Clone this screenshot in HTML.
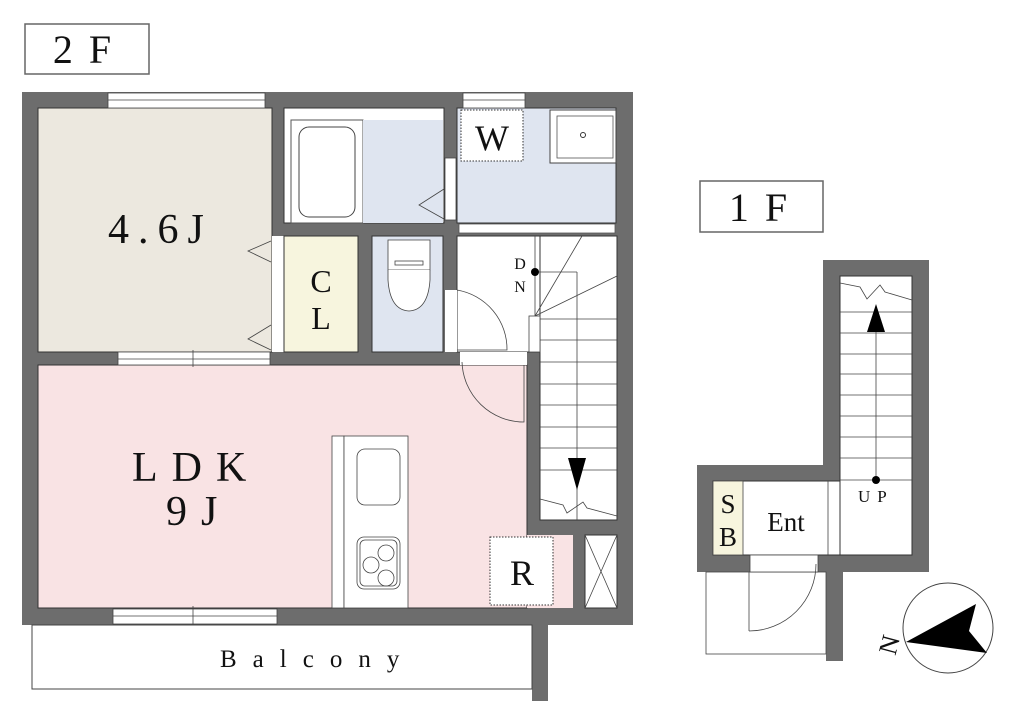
<!DOCTYPE html>
<html><head><meta charset="utf-8"><style>
html,body{margin:0;padding:0;background:#fff}
svg{display:block}
text{font-family:"Liberation Serif","Noto Serif CJK SC",serif;fill:#111}
</style></head><body>
<svg width="1024" height="720" viewBox="0 0 1024 720" xmlns="http://www.w3.org/2000/svg">
<!-- labels -->
<rect x="25" y="24" width="124" height="50" fill="#fff" stroke="#666" stroke-width="1.5"/>
<text x="90" y="63" font-size="40" text-anchor="middle" letter-spacing="16">2F</text>
<rect x="700" y="181" width="123" height="51" fill="#fff" stroke="#666" stroke-width="1.5"/>
<text x="766" y="221" font-size="40" text-anchor="middle" letter-spacing="16">1F</text>

<!-- 2F walls base -->
<rect x="22" y="92" width="611" height="533" fill="#6d6d6d"/>
<rect x="532" y="625" width="16" height="76" fill="#6d6d6d"/>

<!-- rooms -->
<rect x="38" y="108" width="234" height="244" fill="#ece8df" stroke="#333" stroke-width="1"/>
<rect x="272" y="236" width="12" height="116" fill="#fff"/>
<rect x="284" y="108" width="160" height="115" fill="#fff" stroke="#333" stroke-width="1"/>
<rect x="291" y="120" width="72" height="103" fill="#fff" stroke="#555" stroke-width="1"/>
<rect x="363" y="120" width="80" height="103" fill="#dfe5f0"/>
<rect x="299" y="127" width="56" height="90" rx="10" fill="#fff" stroke="#444" stroke-width="1"/>
<rect x="445" y="158" width="11" height="62" fill="#fff" stroke="#444" stroke-width="0.8"/>
<polyline points="444,189 419,205 444,219" fill="none" stroke="#444" stroke-width="0.8"/>
<rect x="457" y="108" width="159" height="115" fill="#dfe5f0" stroke="#333" stroke-width="1"/>
<rect x="461" y="110" width="62" height="51" fill="#fff" stroke="#333" stroke-width="1" stroke-dasharray="1.5,1.5"/>
<text x="492" y="150" font-size="36" text-anchor="middle">W</text>
<rect x="550" y="110" width="66" height="53" fill="#fff" stroke="#444" stroke-width="1"/>
<rect x="557" y="116" width="56" height="42" fill="#fff" stroke="#555" stroke-width="0.8"/>
<circle cx="583" cy="135" r="2.5" fill="none" stroke="#333"/>
<rect x="459" y="224" width="156" height="9" fill="#fff" stroke="#555" stroke-width="0.8"/>
<rect x="284" y="236" width="74" height="116" fill="#f7f5de" stroke="#333" stroke-width="1"/>
<text x="321" y="292" font-size="32" text-anchor="middle">C</text>
<text x="321" y="329" font-size="32" text-anchor="middle">L</text>
<polyline points="271,241 248,251 271,262" fill="none" stroke="#444" stroke-width="0.8"/>
<polyline points="271,325 248,339 271,350" fill="none" stroke="#444" stroke-width="0.8"/>
<rect x="372" y="236" width="71" height="116" fill="#dfe5f0" stroke="#333" stroke-width="1"/>
<path d="M388,240 h42 v30 h-42 z" fill="#fff" stroke="#444" stroke-width="0.8"/>
<rect x="395" y="261" width="28" height="4" fill="#fff" stroke="#444" stroke-width="0.8"/>
<path d="M388,270 v10 q2,30 21,31 q19,-1 21,-31 v-10" fill="#fff" stroke="#444" stroke-width="0.8"/>
<!-- hall -->
<rect x="457" y="236" width="160" height="116" fill="#fff" stroke="#333" stroke-width="1"/>
<rect x="445" y="290" width="12" height="62" fill="#fff"/>
<path d="M457,290 A60,60 0 0 1 507,350 L457,350" fill="none" stroke="#444" stroke-width="0.8"/>
<!-- stairs 2F -->
<rect x="540" y="236" width="77" height="284" fill="#fff" stroke="#333" stroke-width="1"/>
<g stroke="#444" stroke-width="0.8" fill="none">
<line x1="535" y1="236" x2="535" y2="316"/>
<rect x="529" y="316" width="11" height="36" fill="#fff"/>
<line x1="535" y1="272" x2="577" y2="272"/><line x1="577" y1="272" x2="577" y2="520"/>
<line x1="535" y1="316" x2="582" y2="236"/><line x1="535" y1="316" x2="617" y2="276"/>
<line x1="540" y1="319" x2="617" y2="319"/><line x1="540" y1="340" x2="617" y2="340"/>
<line x1="540" y1="362" x2="617" y2="362"/><line x1="540" y1="384" x2="617" y2="384"/>
<line x1="540" y1="405" x2="617" y2="405"/><line x1="540" y1="427" x2="617" y2="427"/>
<line x1="540" y1="448" x2="617" y2="448"/><line x1="540" y1="470" x2="617" y2="470"/>
<polyline points="540,499 563,505 567,513 583,502 587,508 617,516"/>
</g>
<circle cx="535" cy="272" r="4" fill="#000"/>
<text x="520" y="269" font-size="16" text-anchor="middle">D</text>
<text x="520" y="292" font-size="16" text-anchor="middle">N</text>
<polygon points="568,458 586,458 577,490" fill="#000"/>
<!-- LDK -->
<rect x="38" y="365" width="489" height="243" fill="#f9e3e4" stroke="#333" stroke-width="1"/>
<rect x="527" y="535" width="46" height="73" fill="#f9e3e4"/>
<rect x="460" y="352" width="67" height="13" fill="#fff"/>
<path d="M462,362 A62,62 0 0 0 524,422 L524,365" fill="none" stroke="#444" stroke-width="0.8"/>
<rect x="332" y="436" width="12" height="172" fill="#fff" stroke="#444" stroke-width="0.8"/>
<rect x="344" y="436" width="64" height="172" fill="#fff" stroke="#444" stroke-width="0.8"/>
<rect x="357" y="449" width="43" height="56" rx="8" fill="#fff" stroke="#444" stroke-width="0.8"/>
<rect x="357" y="537" width="43" height="52" rx="7" fill="#fff" stroke="#444" stroke-width="0.8"/>
<rect x="360" y="540" width="37" height="46" rx="5" fill="none" stroke="#444" stroke-width="0.8"/>
<circle cx="386" cy="553" r="8" fill="none" stroke="#444" stroke-width="0.8"/>
<circle cx="371" cy="565" r="8" fill="none" stroke="#444" stroke-width="0.8"/>
<circle cx="386" cy="578" r="8" fill="none" stroke="#444" stroke-width="0.8"/>
<rect x="490" y="537" width="63" height="68" fill="#fff" stroke="#333" stroke-width="1" stroke-dasharray="1.5,1.5"/>
<text x="522" y="585" font-size="36" text-anchor="middle">R</text>
<rect x="585" y="535" width="32" height="73" fill="#fff" stroke="#333" stroke-width="1"/>
<line x1="585" y1="535" x2="617" y2="608" stroke="#444" stroke-width="0.8"/>
<line x1="617" y1="535" x2="585" y2="608" stroke="#444" stroke-width="0.8"/>
<text x="108" y="243" font-size="42" letter-spacing="9">4.6J</text>
<text x="132" y="481" font-size="42" letter-spacing="14">LDK</text>
<text x="166" y="525" font-size="42" letter-spacing="14">9J</text>
<!-- windows -->
<g fill="#fff" stroke="#444" stroke-width="0.8">
<rect x="108" y="93" width="157" height="15"/><line x1="108" y1="100" x2="265" y2="100"/>
<rect x="463" y="93" width="62" height="15"/><line x1="463" y1="100" x2="525" y2="100"/>
<rect x="118" y="352" width="152" height="13"/><line x1="118" y1="359" x2="270" y2="359"/>
<rect x="113" y="609" width="164" height="15"/><line x1="113" y1="616" x2="277" y2="616"/>
</g>
<line x1="193" y1="350" x2="193" y2="367" stroke="#444" stroke-width="0.8"/>
<line x1="193" y1="606" x2="193" y2="627" stroke="#444" stroke-width="0.8"/>
<!-- balcony -->
<rect x="32" y="625" width="500" height="64" fill="#fff" stroke="#444" stroke-width="1"/>
<text x="220" y="667" font-size="25" letter-spacing="16">Balcony</text>

<!-- 1F -->
<rect x="823" y="260" width="106" height="312" fill="#6d6d6d"/>
<rect x="697" y="465" width="232" height="107" fill="#6d6d6d"/>
<rect x="826" y="570" width="17" height="91" fill="#6d6d6d"/>
<rect x="706" y="572" width="120" height="82" fill="#fff" stroke="#444" stroke-width="0.8"/>
<rect x="713" y="481" width="199" height="74" fill="#fff" stroke="#333" stroke-width="1"/>
<rect x="840" y="276" width="72" height="279" fill="#fff" stroke="#333" stroke-width="1"/>
<rect x="713" y="481" width="30" height="74" fill="#f7f5de" stroke="#444" stroke-width="0.8"/>
<line x1="828" y1="481" x2="828" y2="555" stroke="#444" stroke-width="0.8"/>
<g stroke="#444" stroke-width="0.8" fill="none">
<line x1="840" y1="312" x2="912" y2="312"/><line x1="840" y1="333" x2="912" y2="333"/>
<line x1="840" y1="354" x2="912" y2="354"/><line x1="840" y1="374" x2="912" y2="374"/>
<line x1="840" y1="395" x2="912" y2="395"/><line x1="840" y1="416" x2="912" y2="416"/>
<line x1="840" y1="437" x2="912" y2="437"/><line x1="840" y1="458" x2="912" y2="458"/>
<line x1="840" y1="480" x2="912" y2="480"/>
<line x1="876" y1="330" x2="876" y2="480"/>
<polyline points="840,283 860,287 867,299 880,285 885,292 912,300"/>
</g>
<polygon points="867,332 885,332 876,304" fill="#000"/>
<circle cx="876" cy="480" r="4" fill="#000"/>
<text x="858" y="502" font-size="17" letter-spacing="7">UP</text>
<text x="728" y="513" font-size="27" text-anchor="middle">S</text>
<text x="728" y="546" font-size="27" text-anchor="middle">B</text>
<text x="786" y="531" font-size="27" text-anchor="middle">Ent</text>
<rect x="750" y="555" width="68" height="17" fill="#fff" stroke="#444" stroke-width="0.8"/>
<path d="M749,631 A67,67 0 0 0 816,564 M749,572 L749,631" fill="none" stroke="#444" stroke-width="0.8"/>
<!-- compass -->
<circle cx="948" cy="628" r="45" fill="#fff" stroke="#444" stroke-width="1"/>
<polygon points="906,642 976,604 969,631 987,653" fill="#000"/>
<text x="890" y="645" font-size="26" transform="rotate(-75 890 645)" text-anchor="middle" dy="8">N</text>
</svg>
</body></html>
